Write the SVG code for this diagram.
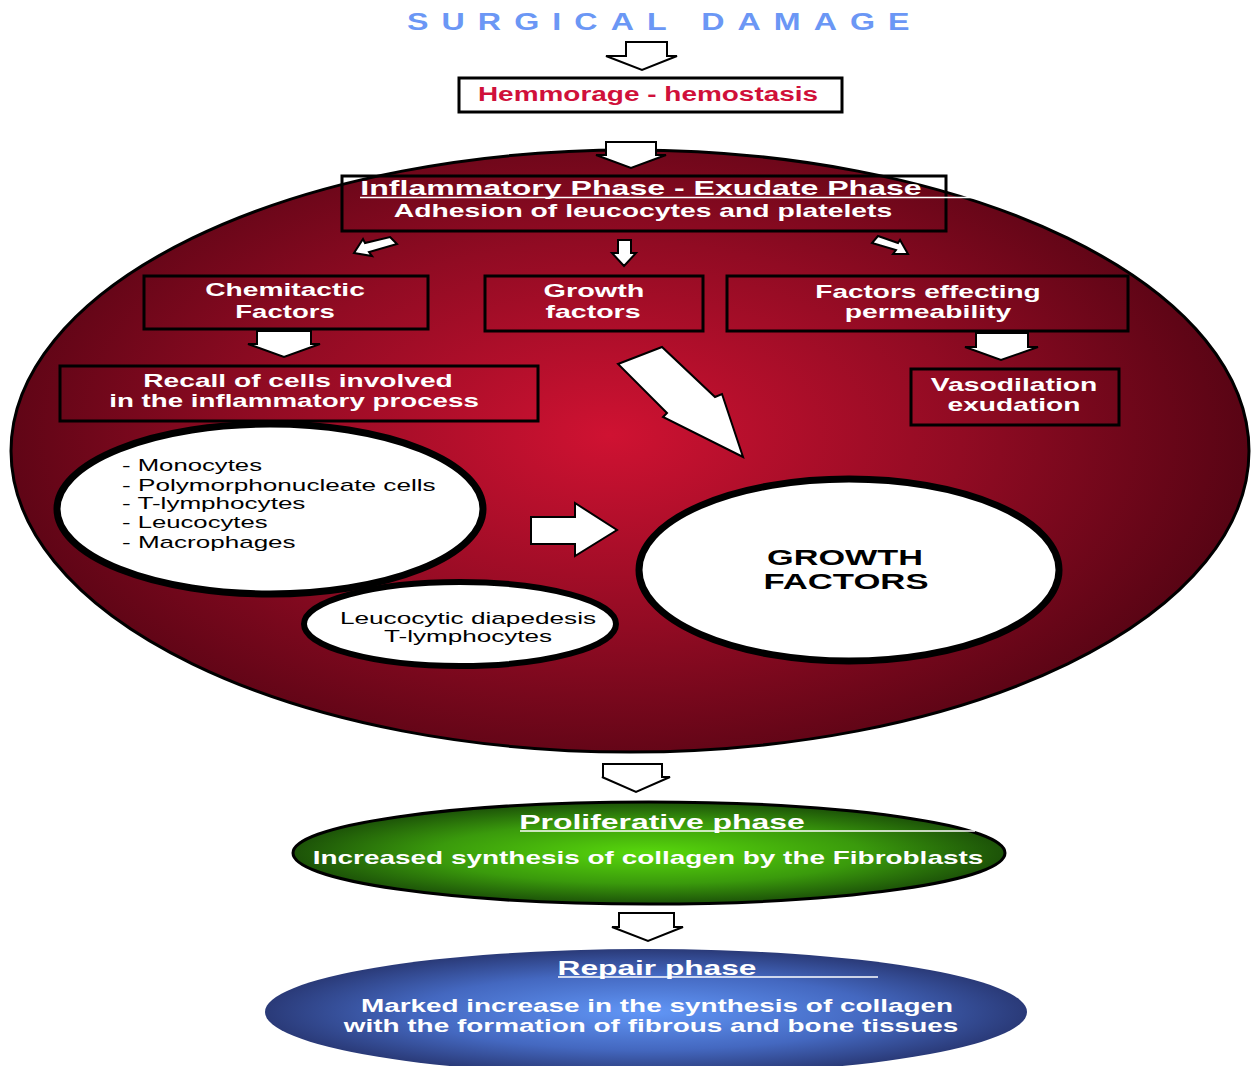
<svg xmlns="http://www.w3.org/2000/svg" width="1251" height="1066" viewBox="0 0 1251 1066">
<defs>
<radialGradient id="gRed" cx="610" cy="435" r="640" gradientUnits="userSpaceOnUse" gradientTransform="translate(610 435) scale(1 0.55) translate(-610 -435)">
<stop offset="0" stop-color="#cf1232"/>
<stop offset="0.55" stop-color="#910b23"/>
<stop offset="1" stop-color="#580414"/>
</radialGradient>
<radialGradient id="gGreen" cx="0.5" cy="0.5" r="0.5">
<stop offset="0" stop-color="#58d80c"/>
<stop offset="0.6" stop-color="#3a9a0c"/>
<stop offset="1" stop-color="#1c5208"/>
</radialGradient>
<radialGradient id="gBlue" cx="0.5" cy="0.5" r="0.5">
<stop offset="0" stop-color="#6196f6"/>
<stop offset="0.6" stop-color="#4468c0"/>
<stop offset="1" stop-color="#2a3a78"/>
</radialGradient>
</defs>
<style>
.t{font-family:"Liberation Sans",Arial,sans-serif;font-weight:bold;fill:#ffffff;text-anchor:middle}
.n{font-family:"Liberation Sans",Arial,sans-serif;fill:#000000}
.box{fill:none;stroke:#000;stroke-width:3}
.wa{fill:#fff;stroke:#000;stroke-width:2;stroke-linejoin:miter}
.oa{fill:#fff;stroke:#000;stroke-width:2}
.ul{stroke:#fff;stroke-width:1.5}
</style>

<g id="title">
<text x="0" y="30" transform="translate(407 0) scale(1.4 1)" font-family="Liberation Sans,Arial,sans-serif" font-weight="bold" font-size="23" fill="#6b97f5" textLength="359" lengthAdjust="spacing">SURGICAL DAMAGE</text>
</g>

<g id="hemmorage">
<rect x="459" y="78" width="383" height="34" fill="#fff" stroke="#000" stroke-width="3"/>
<text x="0" y="101" transform="translate(648 0) scale(1.4 1)" font-family="Liberation Sans,Arial,sans-serif" font-weight="bold" font-size="20" fill="#d0103a" text-anchor="middle" textLength="243" lengthAdjust="spacingAndGlyphs">Hemmorage - hemostasis</text>
</g>

<g id="inflammatory-phase">
<ellipse cx="630" cy="451" rx="619" ry="301" fill="url(#gRed)" stroke="#000" stroke-width="3"/>
</g>

<g id="inflammatory-header">
<rect x="342" y="176" width="604" height="55" class="box"/>
<text x="0" y="195" transform="translate(641 0) scale(1.4 1)" class="t" font-size="21" textLength="401" lengthAdjust="spacingAndGlyphs">Inflammatory Phase - Exudate Phase</text>
<line x1="360" y1="197.5" x2="1035" y2="197.5" class="ul"/>
<text x="0" y="217" transform="translate(643 0) scale(1.4 1)" class="t" font-size="19" textLength="356" lengthAdjust="spacingAndGlyphs">Adhesion of leucocytes and platelets</text>
</g>

<g id="chemitactic">
<rect x="144" y="276" width="284" height="53" class="box"/>
<text x="0" y="296" transform="translate(285 0) scale(1.4 1)" class="t" font-size="19" textLength="114" lengthAdjust="spacingAndGlyphs">Chemitactic</text>
<text x="0" y="318" transform="translate(285 0) scale(1.4 1)" class="t" font-size="19" textLength="71" lengthAdjust="spacingAndGlyphs">Factors</text>
</g>

<g id="growth-factors-box">
<rect x="485" y="276" width="218" height="55" class="box"/>
<text x="0" y="297" transform="translate(594 0) scale(1.4 1)" class="t" font-size="19" textLength="72" lengthAdjust="spacingAndGlyphs">Growth</text>
<text x="0" y="318" transform="translate(593 0) scale(1.4 1)" class="t" font-size="19" textLength="68" lengthAdjust="spacingAndGlyphs">factors</text>
</g>

<g id="permeability">
<rect x="727" y="276" width="401" height="55" class="box"/>
<text x="0" y="298" transform="translate(928 0) scale(1.4 1)" class="t" font-size="19" textLength="161" lengthAdjust="spacingAndGlyphs">Factors effecting</text>
<text x="0" y="318" transform="translate(928 0) scale(1.4 1)" class="t" font-size="19" textLength="119" lengthAdjust="spacingAndGlyphs">permeability</text>
</g>

<g id="recall">
<rect x="60" y="366" width="478" height="55" class="box"/>
<text x="0" y="387" transform="translate(298 0) scale(1.4 1)" class="t" font-size="19" textLength="221" lengthAdjust="spacingAndGlyphs">Recall of cells involved</text>
<text x="0" y="407" transform="translate(294 0) scale(1.4 1)" class="t" font-size="19" textLength="264" lengthAdjust="spacingAndGlyphs">in the inflammatory process</text>
</g>

<g id="vasodilation">
<rect x="911" y="369" width="208" height="56" class="box"/>
<text x="0" y="391" transform="translate(1014 0) scale(1.4 1)" class="t" font-size="19" textLength="119" lengthAdjust="spacingAndGlyphs">Vasodilation</text>
<text x="0" y="411" transform="translate(1014 0) scale(1.4 1)" class="t" font-size="19" textLength="95" lengthAdjust="spacingAndGlyphs">exudation</text>
</g>

<g id="cells">
<ellipse cx="270" cy="509" rx="213" ry="85" fill="#fff" stroke="#000" stroke-width="7"/>
<text class="n" font-size="17" transform="translate(122 0) scale(1.4 1)">
<tspan x="0" y="471" textLength="100" lengthAdjust="spacingAndGlyphs">- Monocytes</tspan>
<tspan x="0" y="491" textLength="224" lengthAdjust="spacingAndGlyphs">- Polymorphonucleate cells</tspan>
<tspan x="0" y="509" textLength="131" lengthAdjust="spacingAndGlyphs">- T-lymphocytes</tspan>
<tspan x="0" y="528" textLength="104" lengthAdjust="spacingAndGlyphs">- Leucocytes</tspan>
<tspan x="0" y="548" textLength="124" lengthAdjust="spacingAndGlyphs">- Macrophages</tspan>
</text>
</g>

<g id="diapedesis">
<ellipse cx="460" cy="624" rx="156" ry="42" fill="#fff" stroke="#000" stroke-width="6"/>
<text x="0" y="624" transform="translate(468 0) scale(1.4 1)" class="n" font-size="17" text-anchor="middle" textLength="183" lengthAdjust="spacingAndGlyphs">Leucocytic diapedesis</text>
<text x="0" y="642" transform="translate(468 0) scale(1.4 1)" class="n" font-size="17" text-anchor="middle" textLength="120" lengthAdjust="spacingAndGlyphs">T-lymphocytes</text>
</g>

<g id="growth-factors">
<ellipse cx="849" cy="570" rx="210" ry="91" fill="#fff" stroke="#000" stroke-width="7"/>
<text x="0" y="565" transform="translate(845 0) scale(1.3 1)" class="n" font-weight="bold" font-size="22" text-anchor="middle" textLength="120" lengthAdjust="spacingAndGlyphs">GROWTH</text>
<text x="0" y="589" transform="translate(846 0) scale(1.3 1)" class="n" font-weight="bold" font-size="22" text-anchor="middle" textLength="127" lengthAdjust="spacingAndGlyphs">FACTORS</text>
</g>

<g id="proliferative">
<ellipse cx="649" cy="853" rx="356" ry="51" fill="url(#gGreen)" stroke="#000" stroke-width="3"/>
<text x="0" y="829" transform="translate(662 0) scale(1.4 1)" class="t" font-size="21" textLength="204" lengthAdjust="spacingAndGlyphs">Proliferative phase</text>
<line x1="520" y1="831" x2="975" y2="831" class="ul"/>
<text x="0" y="864" transform="translate(648 0) scale(1.4 1)" class="t" font-size="19" textLength="479" lengthAdjust="spacingAndGlyphs">Increased synthesis of collagen by the Fibroblasts</text>
</g>

<g id="repair">
<ellipse cx="646" cy="1012" rx="381" ry="63" fill="url(#gBlue)"/>
<text x="0" y="975" transform="translate(657 0) scale(1.4 1)" class="t" font-size="21" textLength="142" lengthAdjust="spacingAndGlyphs">Repair phase</text>
<line x1="558" y1="977" x2="878" y2="977" class="ul"/>
<text x="0" y="1012" transform="translate(657 0) scale(1.4 1)" class="t" font-size="19" textLength="423" lengthAdjust="spacingAndGlyphs">Marked increase in the synthesis of collagen</text>
<text x="0" y="1032" transform="translate(651 0) scale(1.4 1)" class="t" font-size="19" textLength="439" lengthAdjust="spacingAndGlyphs">with the formation of fibrous and bone tissues</text>
</g>

<g id="connectors">
<polygon class="oa" points="626,42 667,42 667,56 677,56 642,70 606,56 626,56"/>
<polygon class="wa" points="606,142 656,142 656,155 666,155 631,168 596,155 606,155"/>
<polygon class="wa" points="390,237 397,244 369,252 372,256 354,253 363,239 365,243"/>
<polygon class="wa" points="878,236 872,243 896,250 893,254 908,254 900,240 898,243"/>
<polygon class="wa" points="618,240 631,240 631,253 636,253 624,266 612,253 618,253"/>
<polygon class="wa" points="257,331 311,331 311,344 320,344 284,357 248,344 257,344"/>
<polygon class="wa" points="976,333 1028,333 1028,347 1038,347 1001,360 965,347 976,347"/>
<polygon class="wa" points="618,364 662,347 715,397 722,394 743,457 663,417 667,413"/>
<polygon class="wa" points="531,517 575,517 575,503 617,530 575,556 575,544 531,544"/>
<polygon class="oa" points="603,764 662,764 662,777 670,777 636,792 602,777 603,777"/>
<polygon class="oa" points="619,913 674,913 674,927 683,927 648,941 612,927 619,927"/>
</g>
</svg>
